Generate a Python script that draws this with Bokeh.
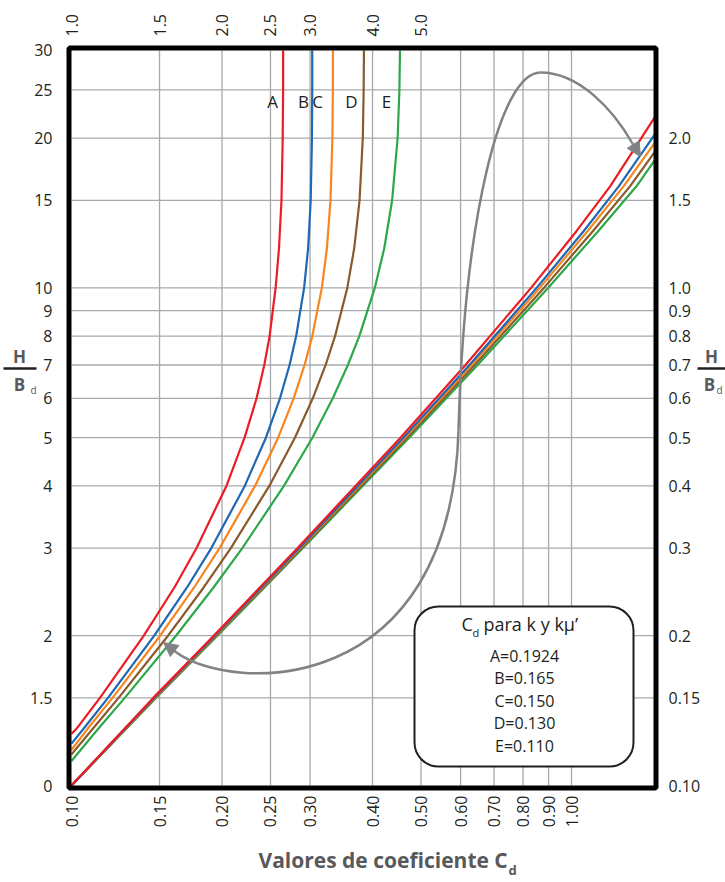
import math
from bokeh.plotting import figure
from bokeh.models import (Range1d, LogScale, LogAxis, FixedTicker, Label,
                          BoxAnnotation, Arrow, NormalHead)
from bokeh.embed import file_html
from bokeh.resources import INLINE

# ---------------- data ----------------
CURVE_NAMES = ["A", "B", "C", "D", "E"]
KMU_TEXT = ["A=0.1924", "B=0.165", "C=0.150", "D=0.130", "E=0.110"]
CURVE_COLORS = ["#ed1c24", "#1f68b3", "#f7861f", "#8a5a2b", "#2ca84a"]

# upper family: H/Bd on the left axis, Cd on the top axis
UPPER_START_HBD = [1.27, 1.214, 1.18, 1.155, 1.12]   # where each curve enters at Cd = 1.0
UPPER_HBD = [1.3, 1.5, 2, 2.5, 3, 4, 5, 6, 7, 8, 10, 12, 15, 20, 25, 30]
UPPER_CD_A = [1.023, 1.140, 1.395, 1.606, 1.779, 2.041, 2.219, 2.345, 2.430, 2.490, 2.560, 2.600, 2.630, 2.645, 2.650, 2.650]
UPPER_CD_B = [1.057, 1.183, 1.464, 1.702, 1.904, 2.221, 2.448, 2.612, 2.730, 2.814, 2.919, 2.973, 3.009, 3.026, 3.030, 3.030]
UPPER_CD_C = [1.077, 1.208, 1.504, 1.759, 1.978, 2.329, 2.590, 2.782, 2.925, 3.031, 3.167, 3.242, 3.296, 3.325, 3.332, 3.333]
UPPER_CD_D = [1.103, 1.242, 1.560, 1.838, 2.083, 2.487, 2.798, 3.038, 3.223, 3.366, 3.561, 3.676, 3.768, 3.825, 3.840, 3.845]
UPPER_CD_E = [1.131, 1.278, 1.618, 1.923, 2.196, 2.660, 3.032, 3.331, 3.571, 3.764, 4.042, 4.221, 4.378, 4.490, 4.527, 4.539]

# lower family: H/Bd on the right axis, Cd on the bottom axis
LOWER_HBD = [0.1, 0.15, 0.2, 0.3, 0.5, 0.7, 1.0, 1.3, 1.6]
LOWER_CD_A = [0.100, 0.1457, 0.1925, 0.2833, 0.4549, 0.6137, 0.8301, 1.0229, 1.1947]
LOWER_CD_B = [0.100, 0.1463, 0.1935, 0.2856, 0.4609, 0.6250, 0.8518, 1.0571, 1.2431]
LOWER_CD_C = [0.100, 0.1467, 0.1941, 0.2869, 0.4643, 0.6314, 0.8639, 1.0765, 1.2707]
LOWER_CD_D = [0.100, 0.1471, 0.1949, 0.2886, 0.4688, 0.6400, 0.8806, 1.1031, 1.3089]
LOWER_CD_E = [0.100, 0.1475, 0.1957, 0.2903, 0.4735, 0.6488, 0.8976, 1.1306, 1.3487]
LOWER_END_CD = 1.47                                   # where the lines leave at the right edge
LOWER_END_HBD = [2.21, 2.04, 1.96, 1.88, 1.81]

BOTTOM_TICKS = [0.10, 0.15, 0.20, 0.25, 0.30, 0.40, 0.50, 0.60, 0.70, 0.80, 0.90, 1.00]
BOTTOM_LABELS = ["0.10", "0.15", "0.20", "0.25", "0.30", "0.40", "0.50", "0.60", "0.70", "0.80", "0.90", "1.00"]
TOP_TICKS = [1.0, 1.5, 2.0, 2.5, 3.0, 4.0, 5.0]
TOP_LABELS = ["1.0", "1.5", "2.0", "2.5", "3.0", "4.0", "5.0"]
LEFT_TICKS = [1.0, 1.5, 2.0, 3.0, 4.0, 5.0, 6.0, 7.0, 8.0, 9.0, 10.0, 15.0, 20.0, 25.0, 30.0]
LEFT_LABELS = ["0", "1.5", "2", "3", "4", "5", "6", "7", "8", "9", "10", "15", "20", "25", "30"]
RIGHT_TICKS = [0.10, 0.15, 0.2, 0.3, 0.4, 0.5, 0.6, 0.7, 0.8, 0.9, 1.0, 1.5, 2.0]
RIGHT_LABELS = ["0.10", "0.15", "0.2", "0.3", "0.4", "0.5", "0.6", "0.7", "0.8", "0.9", "1.0", "1.5", "2.0"]
XGRID_TICKS = BOTTOM_TICKS[1:]
YGRID_TICKS = LEFT_TICKS[1:-1]
CHART_CD = (0.10, 1.46)      # chart extent on the bottom scale
CHART_HBD = (1.0, 30.0)      # chart extent on the left scale

LEGEND_TITLE = "para k y kμ’"
X_TITLE = "Valores de coeficiente C"

# ---------------- layout (canvas pixels) ----------------
W, H = 725, 882
X0, DX = 71.0, 500.0      # x of Cd=0.1, px per decade
Y0, DY = 785.0, 497.6     # y of H/Bd=1, px per decade
BL, BR, BT, BB = 68.5, 655.5, 47.5, 787.5   # centre of the thick border


def xd(px):
    return 0.1 * 10 ** ((px - X0) / DX)


def yd(py):
    return 10 ** ((Y0 - py) / DY)


FONT = "Open Sans"
GRAY_TXT = "#58595b"
INK = "#231f20"
ARROW_GRAY = "#808285"
GRID = "#a7a9ac"

p = figure(width=W, height=H, output_backend="svg", toolbar_location=None,
           x_axis_type="log", y_axis_type="log", title=None,
           x_axis_location=None, y_axis_location=None,
           x_range=Range1d(xd(0), xd(W)), y_range=Range1d(yd(H), yd(0)),
           min_border=0, min_border_left=0, min_border_right=0,
           min_border_top=0, min_border_bottom=0)
p.extra_x_ranges = {"top": Range1d(10 * xd(0), 10 * xd(W))}
p.extra_x_scales = {"top": LogScale()}
p.extra_y_ranges = {"right": Range1d(yd(H) / 10, yd(0) / 10)}
p.extra_y_scales = {"right": LogScale()}
p.outline_line_color = None
p.background_fill_color = "white"
p.border_fill_color = "white"
p.grid.visible = False


def make_axis(side, ticks, labels, standoff, orient=None, **kw):
    ax = LogAxis(**kw)
    ax.ticker = FixedTicker(ticks=ticks)
    ax.major_label_overrides = {float(t): l for t, l in zip(ticks, labels)}
    ax.axis_line_color = None
    ax.major_tick_line_color = None
    ax.minor_tick_line_color = None
    ax.major_tick_out = 0
    ax.major_tick_in = 0
    ax.minor_tick_out = 0
    ax.minor_tick_in = 0
    ax.major_label_standoff = standoff
    ax.major_label_text_font = FONT
    ax.major_label_text_font_size = "16px"
    ax.major_label_text_color = INK
    if orient is not None:
        ax.major_label_orientation = orient
    p.add_layout(ax, side)
    return ax


make_axis("below", BOTTOM_TICKS, BOTTOM_LABELS, 7, math.pi / 2, fixed_location=yd(788))
make_axis("above", TOP_TICKS, TOP_LABELS, 12, math.pi / 2, x_range_name="top", fixed_location=yd(48))
make_axis("left", LEFT_TICKS, LEFT_LABELS, 17, fixed_location=xd(69))
make_axis("right", RIGHT_TICKS, RIGHT_LABELS, 12, y_range_name="right", fixed_location=xd(656))

# grid lines at the tick values, across the chart only
p.segment(x0=XGRID_TICKS, x1=XGRID_TICKS,
          y0=[CHART_HBD[0]] * len(XGRID_TICKS), y1=[CHART_HBD[1]] * len(XGRID_TICKS),
          line_color=GRID, line_width=1.3)
p.segment(x0=[CHART_CD[0]] * len(YGRID_TICKS), x1=[CHART_CD[1]] * len(YGRID_TICKS),
          y0=YGRID_TICKS, y1=YGRID_TICKS, line_color=GRID, line_width=1.3)

# ---------------- curves ----------------
uppers = [UPPER_CD_A, UPPER_CD_B, UPPER_CD_C, UPPER_CD_D, UPPER_CD_E]
lowers = [LOWER_CD_A, LOWER_CD_B, LOWER_CD_C, LOWER_CD_D, LOWER_CD_E]
for cds, hend, col in list(zip(lowers, LOWER_END_HBD, CURVE_COLORS))[::-1]:
    p.line(cds + [LOWER_END_CD], LOWER_HBD + [hend], y_range_name="right",
           line_color=col, line_width=2.2)
for cds, h0, col in zip(uppers, UPPER_START_HBD, CURVE_COLORS):
    p.line([TOP_TICKS[0]] + cds, [h0] + UPPER_HBD, x_range_name="top",
           line_color=col, line_width=2.2)

# ---------------- grey looping arrow ----------------
segs = [((176, 652), (230, 692), (450, 700), (458, 430)),
        ((458, 430), (464, 214), (500, 72), (540, 72)),
        ((540, 72), (578, 72), (612, 108), (632, 143))]
p.bezier(x0=[xd(s[0][0]) for s in segs], y0=[yd(s[0][1]) for s in segs],
         x1=[xd(s[3][0]) for s in segs], y1=[yd(s[3][1]) for s in segs],
         cx0=[xd(s[1][0]) for s in segs], cy0=[yd(s[1][1]) for s in segs],
         cx1=[xd(s[2][0]) for s in segs], cy1=[yd(s[2][1]) for s in segs],
         line_color=ARROW_GRAY, line_width=2.5)
for (sx, sy), (ex, ey) in [((176, 652), (163, 642)), ((632, 143), (640, 156))]:
    p.add_layout(Arrow(x_start=xd(sx), y_start=yd(sy), x_end=xd(ex), y_end=yd(ey),
                       line_color=ARROW_GRAY, line_width=2.5,
                       end=NormalHead(size=14, fill_color=ARROW_GRAY,
                                      line_color=ARROW_GRAY)))

# ---------------- thick chart border ----------------
p.add_layout(BoxAnnotation(left=xd(BL), right=xd(BR), top=yd(BT), bottom=yd(BB),
                           fill_alpha=0, line_color="black", line_alpha=1.0,
                           line_width=5))

# ---------------- curve letters ----------------
for name, cx in zip(CURVE_NAMES, [272, 303, 317, 351, 386]):
    p.add_layout(Label(x=xd(cx), y=yd(101), text=name, text_align="center",
                       text_baseline="middle", text_font=FONT,
                       text_font_size="17px", text_color=INK))

# ---------------- legend box ----------------
p.add_layout(BoxAnnotation(left=xd(414), right=xd(633), top=yd(606), bottom=yd(766),
                           fill_color="white", fill_alpha=1.0, line_color=INK,
                           line_alpha=1.0, line_width=2, border_radius=24))
p.add_layout(Label(x=xd(461), y=yd(623), text="C", text_align="left",
                   text_baseline="middle", text_font=FONT, text_font_size="18px",
                   text_color=INK))
p.add_layout(Label(x=xd(472), y=yd(632), text="d", text_align="left",
                   text_baseline="middle", text_font=FONT, text_font_size="11px",
                   text_color=INK))
p.add_layout(Label(x=xd(483), y=yd(623), text=LEGEND_TITLE, text_align="left",
                   text_baseline="middle", text_font=FONT, text_font_size="18px",
                   text_color=INK))
for i, t in enumerate(KMU_TEXT):
    p.add_layout(Label(x=xd(524), y=yd(655 + 22.5 * i), text=t, text_align="center",
                       text_baseline="middle", text_font=FONT, text_font_size="16px",
                       text_color=INK))

# ---------------- axis titles ----------------
p.add_layout(Label(x=xd(258), y=yd(859), text=X_TITLE, text_align="left",
                   text_baseline="middle", text_font=FONT, text_font_size="21px",
                   text_font_style="bold", text_color=GRAY_TXT))
p.add_layout(Label(x=xd(508), y=yd(869), text="d", text_align="left",
                   text_baseline="middle", text_font=FONT, text_font_size="13px",
                   text_font_style="bold", text_color=GRAY_TXT))

for hx, lx0, lx1, bx, dx_ in [(19, 3, 36, 19, 30), (711, 697, 725, 709, 716)]:
    p.add_layout(Label(x=xd(hx), y=yd(356), text="H", text_align="center",
                       text_baseline="middle", text_font=FONT, text_font_size="17px",
                       text_font_style="bold", text_color=GRAY_TXT))
    p.add_layout(Arrow(x_start=xd(lx0), y_start=yd(368), x_end=xd(lx1), y_end=yd(368),
                       end=None, line_color=INK, line_width=2.5))
    p.add_layout(Label(x=xd(bx), y=yd(384), text="B", text_align="center",
                       text_baseline="middle", text_font=FONT, text_font_size="17px",
                       text_font_style="bold", text_color=GRAY_TXT))
    p.add_layout(Label(x=xd(dx_), y=yd(389), text="d", text_align="left",
                       text_baseline="middle", text_font=FONT, text_font_size="10px",
                       text_color=GRAY_TXT))

open("out.html", "w").write(file_html(p, INLINE))
